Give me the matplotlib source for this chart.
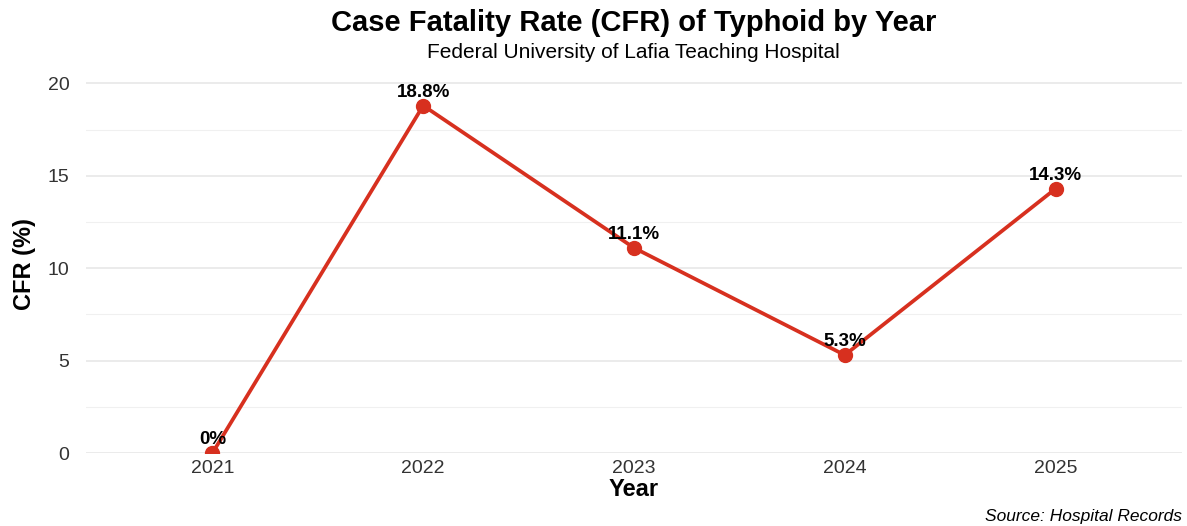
import matplotlib
matplotlib.use("Agg")

import matplotlib.pyplot as plt
from matplotlib.ticker import MultipleLocator

years = [2021, 2022, 2023, 2024, 2025]
cfr = [0.0, 18.8, 11.1, 5.3, 14.3]
labels = ["0%", "18.8%", "11.1%", "5.3%", "14.3%"]

plt.rcParams["font.family"] = ["Liberation Sans", "DejaVu Sans"]

line_color = "#d7301f"

fig = plt.figure(figsize=(11.87, 5.26), dpi=100)
ax = fig.add_axes([86 / 1187, 1 - 453 / 526, (1182 - 86) / 1187, (453 - 76) / 526])

ax.plot(years, cfr, color=line_color, linewidth=2.7, marker="o",
        markersize=10, zorder=3)

for x, y, text in zip(years, cfr, labels):
    ax.annotate(text, (x, y), xytext=(0, 3.5), textcoords="offset points",
                ha="center", va="bottom", fontsize=13.5, fontweight="bold",
                color="black", zorder=4, annotation_clip=False)

ax.set_xlim(2020.4, 2025.6)
ax.set_ylim(0, 20.4)
ax.set_xticks(years)
ax.yaxis.set_major_locator(MultipleLocator(5))
ax.yaxis.set_minor_locator(MultipleLocator(2.5))

ax.grid(axis="y", which="major", color="#e6e6e6", linewidth=1.1)
ax.grid(axis="y", which="minor", color="#f0f0f0", linewidth=0.8)
ax.set_axisbelow(True)
for spine in ax.spines.values():
    spine.set_visible(False)
ax.tick_params(axis="both", which="both", length=0, labelsize=14,
               labelcolor="#333333")
ax.tick_params(axis="x", pad=5)
ax.tick_params(axis="y", pad=12)

ax.set_xlabel("Year", fontsize=17, fontweight="bold", labelpad=1)
ax.set_ylabel("CFR (%)", fontsize=17, fontweight="bold", labelpad=8)

fig.text(0.534, 1 - 23 / 526, "Case Fatality Rate (CFR) of Typhoid by Year",
         ha="center", va="center", fontsize=21, fontweight="bold")
fig.text(0.534, 1 - 53 / 526, "Federal University of Lafia Teaching Hospital",
         ha="center", va="center", fontsize=15)
fig.text(1182 / 1187, 1 - 516 / 526, "Source: Hospital Records",
         ha="right", va="center", fontsize=12.5, style="italic")

fig.savefig("out.png", dpi=100)
plt.close(fig)
